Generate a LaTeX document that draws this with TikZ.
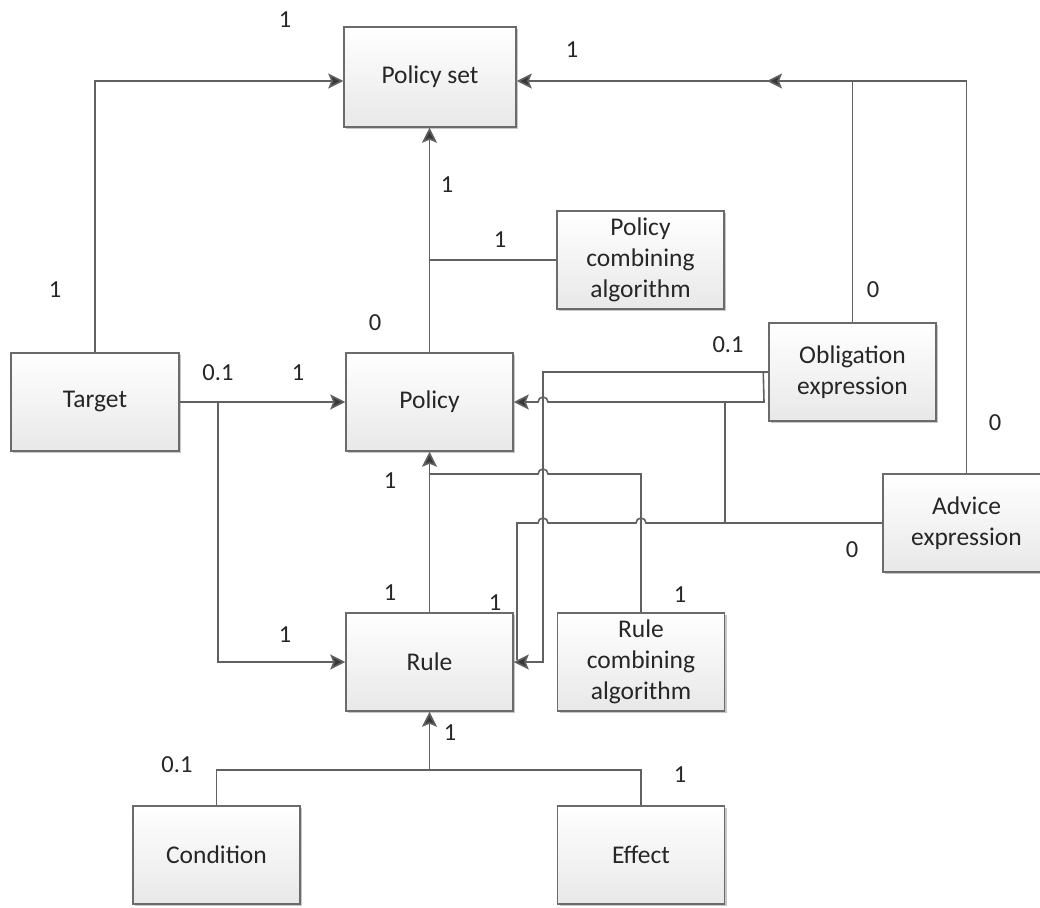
\documentclass[tikz,border=0pt]{standalone}
\usepackage{fontspec}
\setmainfont{Carlito}
\usetikzlibrary{arrows.meta,shadows}

\begin{document}
\begin{tikzpicture}[x=1pt,y=-1pt,
  entity/.style={draw=black!58, line width=1.5pt, minimum width=167pt, minimum height=98pt,
    top color=white, bottom color=black!9, align=center, text=black!85,
    font=\fontsize{25.5}{31}\selectfont, inner sep=2pt,
    drop shadow={shadow xshift=2pt, shadow yshift=-2pt, opacity=0.22, fill=black}},
  link/.style={draw=black!62, line width=1.6pt},
  arr/.style={link, -{Stealth[length=15pt, width=15pt, inset=3pt, fill=black!78]}},
  mult/.style={text=black!85, font=\fontsize{24.5}{28}\selectfont, inner sep=0pt}
]
\useasboundingbox (0,0) rectangle (1040,907);

% entities
\node[entity, minimum width=172pt, minimum height=100pt] (ps) at (430,77) {Policy set};
\node[entity] (pca) at (640.5,260) {Policy\\combining\\algorithm};
\node[entity, minimum width=168pt] (tgt) at (95,402) {Target};
\node[entity] (pol) at (429.5,402) {Policy};
\node[entity] (obl) at (852.5,372) {Obligation\\expression};
\node[entity] (adv) at (966.5,523) {Advice\\expression};
\node[entity] (rule) at (429.5,662) {Rule};
\node[entity] (rca) at (641,662) {Rule\\combining\\algorithm};
\node[entity] (cond) at (216.5,855) {Condition};
\node[entity] (eff) at (641,855) {Effect};

% free ends and junctions
\coordinate (advtip) at (767,81);
\coordinate (cej) at (rule.south |- 0,770);

% Target -> Policy set
\draw[arr] (tgt.north) |- ([yshift=-4pt]ps.west);
% Obligation / Advice -> Policy set
\draw[arr] (obl.north) |- ([yshift=-4pt]ps.east);
\draw[arr] (adv.north) |- (advtip);
% Policy -> Policy set, with combining algorithm
\draw[arr] (pol.north) -- (pol.north |- ps.south);
\draw[link] (pca.west) -- (pca.west -| pol.north);

% Target -> Policy, Target -> Rule
\draw[arr] (tgt.east) -- (pol.west);
\draw[arr] (tgt.east) -- ++(38,0) |- (rule.west);

% Rule -> Policy, with rule combining algorithm
\draw[arr] (rule.north) -- (pol.south);
\draw[link] (rca.north) -- (rca.north |- 0,474) -- (548,474)
  arc[start angle=0, end angle=180, radius=5pt] -- (rule.north |- 0,474);

% Obligation -> Policy and Rule
\draw[arr] (obl.west) -- ++(-5,0) -- (764,402) -- (548,402)
  arc[start angle=0, end angle=180, radius=5pt] -- (pol.east);
\draw[arr] (obl.west) -- (obl.west -| 543,0) |- (rule.east);

% Advice -> Policy and Rule
\draw[link] (adv.west) -- (725,523) -- (725,402);
\draw[link] (adv.west) -- (646,523)
  arc[start angle=0, end angle=180, radius=5pt] -- (548,523)
  arc[start angle=0, end angle=180, radius=5pt] -- (517,523) -- (517,660);

% Condition / Effect -> Rule
\draw[link] (cond.north) -- (cond.north |- cej) -- (eff.north |- cej) -- (eff.north);
\draw[arr] (cej) -- (rule.south);

% multiplicities
\node[mult] (m1) at (285,20) {1};
\node[mult] (m2) at (572,50) {1};
\node[mult] (m3) at (447,185) {1};
\node[mult] (m4) at (500,240) {1};
\node[mult] (m5) at (55,290) {1};
\node[mult] (m6) at (873,290) {0};
\node[mult] (m7) at (375,323) {0};
\node[mult] (m8) at (728,345) {0.1};
\node[mult] (m9) at (218,373) {0.1};
\node[mult] (m10) at (298,373) {1};
\node[mult] (m11) at (995,423) {0};
\node[mult] (m12) at (390,481) {1};
\node[mult] (m13) at (852,550) {0};
\node[mult] (m14) at (390,593) {1};
\node[mult] (m15) at (495,603) {1};
\node[mult] (m16) at (680,595) {1};
\node[mult] (m17) at (285,635) {1};
\node[mult] (m18) at (450,733) {1};
\node[mult] (m19) at (177,765) {0.1};
\node[mult] (m20) at (680,775) {1};
\end{tikzpicture}
\end{document}
